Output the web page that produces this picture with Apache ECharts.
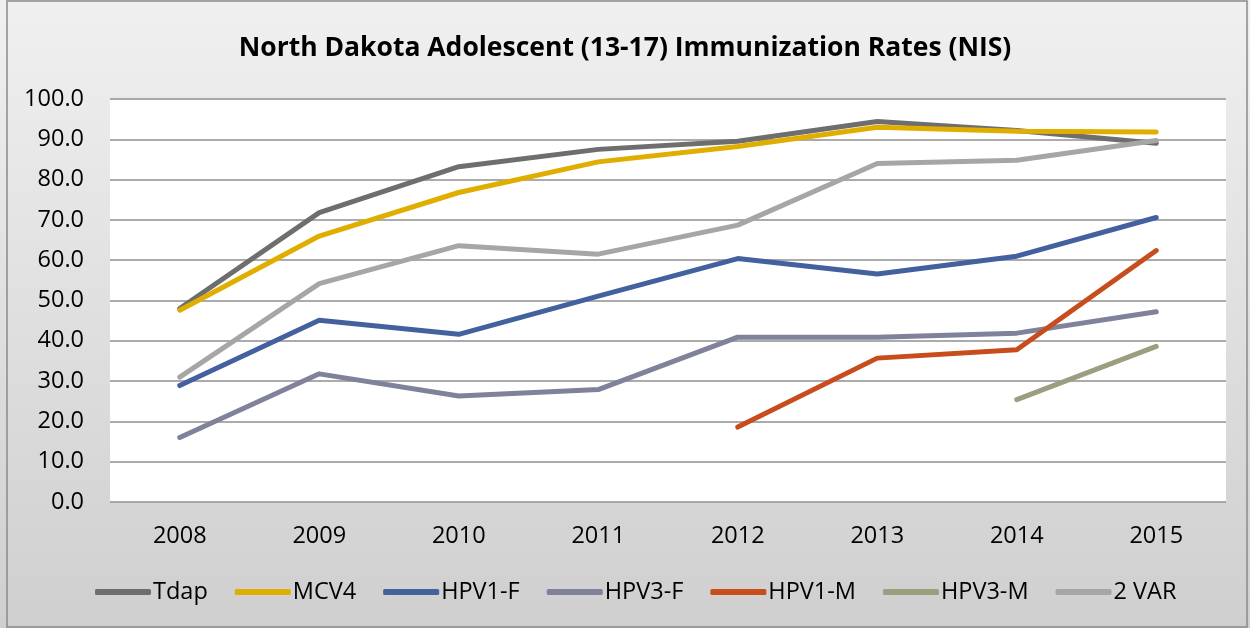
<!DOCTYPE html>
<html>
<head>
<meta charset="utf-8">
<script src="https://cdn.jsdelivr.net/npm/echarts@6/dist/echarts.min.js"></script>
<style>
  html, body { margin: 0; padding: 0; background: #fff; }
  #chart { width: 1250px; height: 628px; }
</style>
</head>
<body>
<div id="chart"></div>
<script>
const years = ['2008', '2009', '2010', '2011', '2012', '2013', '2014', '2015'];

const tdap = [48.0, 71.8, 83.2, 87.5, 89.5, 94.4, 92.2, 89.0];
const mcv4 = [47.6, 66.0, 76.8, 84.4, 88.2, 93.0, 92.0, 91.8];
const hpv1F = [28.9, 45.1, 41.6, 51.1, 60.4, 56.6, 61.0, 70.6];
const hpv3F = [16.0, 31.8, 26.3, 27.9, 40.9, 40.9, 41.9, 47.2];
const hpv1M = [null, null, null, null, 18.6, 35.7, 37.8, 62.4];
const hpv3M = [null, null, null, null, null, null, 25.4, 38.6];
const twoVar = [31.0, 54.2, 63.6, 61.5, 68.7, 84.0, 84.8, 89.7];

const seriesDefs = [
  ['Tdap', tdap, '#6e6e6e'],
  ['MCV4', mcv4, '#dfae00'],
  ['HPV1-F', hpv1F, '#44619f'],
  ['HPV3-F', hpv3F, '#80819b'],
  ['HPV1-M', hpv1M, '#c84d1d'],
  ['HPV3-M', hpv3M, '#9d9e80'],
  ['2 VAR', twoVar, '#a6a6a6'],
];

const font = '"Open Sans", Lato, sans-serif';
const chart = echarts.init(document.getElementById('chart'));

chart.setOption({
  animation: false,
  backgroundColor: {
    type: 'linear', x: 0, y: 0, x2: 0, y2: 1,
    colorStops: [
      { offset: 0, color: '#f0f0f0' },
      { offset: 1, color: '#cfcfcf' },
    ],
  },
  graphic: [{
    type: 'rect',
    shape: { x: 7, y: 1, width: 1240, height: 626 },
    style: { fill: 'none', stroke: '#8a8a8a', lineWidth: 1.5 },
    silent: true,
  }],
  title: {
    text: 'North Dakota Adolescent (13-17) Immunization Rates (NIS)',
    left: 'center',
    top: 30,
    textStyle: {
      fontFamily: font,
      fontSize: 26.5,
      fontWeight: 'bold',
      color: '#000',
    },
  },
  grid: {
    left: 110,
    right: 24,
    top: 99,
    bottom: 126,
    show: true,
    backgroundColor: '#fff',
    borderWidth: 0,
  },
  legend: {
    top: 575,
    left: 90,
    itemWidth: 56,
    itemHeight: 6,
    itemGap: 27,
    icon: 'roundRect',
    textStyle: {
      fontFamily: font,
      fontSize: 23.5,
      color: '#000',
      padding: [0, 0, 0, -3],
    },
    data: seriesDefs.map(([name]) => name),
  },
  xAxis: {
    type: 'category',
    data: years,
    boundaryGap: true,
    axisLine: { show: false },
    axisTick: { show: false },
    axisLabel: {
      fontFamily: font,
      fontSize: 23.5,
      color: '#000',
      margin: 22,
    },
  },
  yAxis: {
    type: 'value',
    min: 0,
    max: 100,
    interval: 10,
    axisLine: { show: false },
    axisTick: { show: false },
    axisLabel: {
      fontFamily: font,
      fontSize: 23.5,
      color: '#000',
      margin: 26,
      formatter: (v) => v.toFixed(1),
    },
    splitLine: {
      lineStyle: { color: '#8f8f8f', width: 1.5 },
    },
  },
  series: seriesDefs.map(([name, data, color]) => ({
    name,
    type: 'line',
    data,
    showSymbol: false,
    symbol: 'none',
    connectNulls: false,
    itemStyle: { color },
    lineStyle: { color, width: 5, cap: 'round', join: 'round' },
  })),
});
</script>
</body>
</html>
